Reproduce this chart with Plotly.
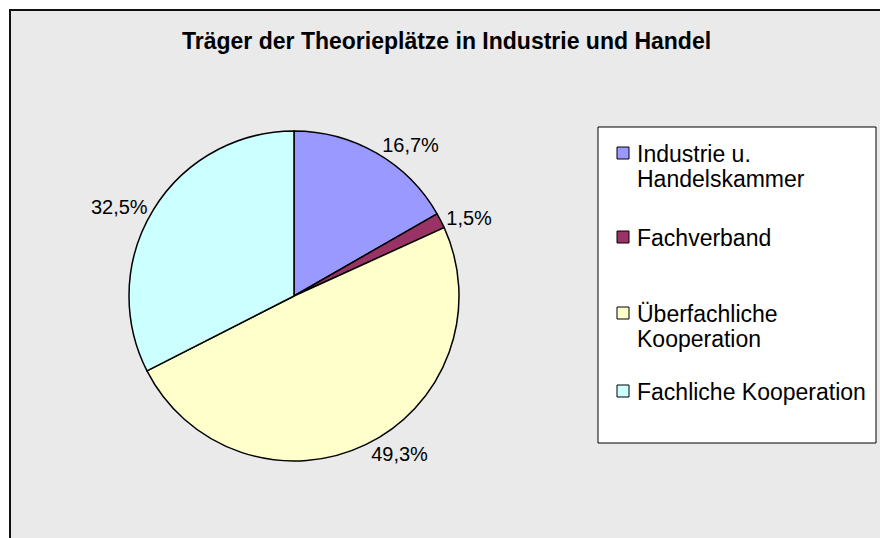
import plotly.graph_objects as go

# data
categories = ["Industrie u. Handelskammer", "Fachverband", "Überfachliche Kooperation", "Fachliche Kooperation"]
legend_lines = [["Industrie u.", "Handelskammer"], ["Fachverband"], ["Überfachliche", "Kooperation"], ["Fachliche Kooperation"]]
shares = [16.7, 1.5, 49.3, 32.5]
colors = ["#9999FF", "#993366", "#FFFFCC", "#CCFFFF"]

W, H = 880, 538
FONT = "Liberation Sans, Arial, sans-serif"


def px(x):
    return x / W


def py(y):
    return 1 - y / H


labels_txt = [f"{v:.1f}%".replace(".", ",") for v in shares]

fig = go.Figure()

fig.add_trace(
    go.Pie(
        labels=categories,
        values=shares,
        text=labels_txt,
        textinfo="text",
        textposition="outside",
        outsidetextfont=dict(size=20, color="black", family=FONT),
        sort=False,
        direction="clockwise",
        rotation=0,
        marker=dict(colors=colors, line=dict(color="black", width=1.5)),
        domain=dict(x=[px(129), px(459)], y=[py(461), py(131)]),
        showlegend=False,
        hoverinfo="label+percent",
    )
)

shapes = []
# chart area with border (runs past the right/bottom edge)
shapes.append(dict(type="rect", xref="paper", yref="paper",
                   x0=px(10), x1=1.05, y0=-0.05, y1=py(10),
                   fillcolor="#eaeaea", line=dict(color="#111111", width=2), layer="below"))
# legend box
shapes.append(dict(type="rect", xref="paper", yref="paper",
                   x0=px(598), x1=px(876), y0=py(443), y1=py(127),
                   fillcolor="white", line=dict(color="black", width=1), layer="below"))

annotations = []
item_y = [153, 237, 313, 391]
for lines, col, yc in zip(legend_lines, colors, item_y):
    shapes.append(dict(type="rect", xref="paper", yref="paper",
                       x0=px(617), x1=px(629), y0=py(yc + 6), y1=py(yc - 6),
                       fillcolor=col, line=dict(color="black", width=1)))
    for k, line in enumerate(lines):
        annotations.append(dict(xref="paper", yref="paper", x=px(635), y=py(yc + 25 * k + 1),
                                xanchor="left", yanchor="middle", align="left",
                                text=line, showarrow=False,
                                font=dict(size=23, color="black", family=FONT)))

fig.update_layout(
    width=W,
    height=H,
    margin=dict(l=0, r=0, t=0, b=0),
    paper_bgcolor="white",
    plot_bgcolor="white",
    title=dict(text="<b>Träger der Theorieplätze in Industrie und Handel</b>",
               x=px(182), y=py(41), xanchor="left", yanchor="middle",
               font=dict(size=23, color="black", family=FONT)),
    shapes=shapes,
    annotations=annotations,
)

# drop the default 8px page margin so the figure sits at the window corner
fig.write_html("out.html", config={"displayModeBar": False},
               post_script="document.body.style.margin='0';")
